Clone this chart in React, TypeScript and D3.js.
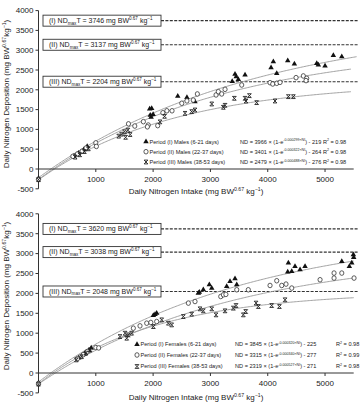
import React from "react";
import * as d3 from "d3";

type P = [number, number];

const xTickValues = [1000, 2000, 3000, 4000, 5000];
const yTickValues = [-500, 0, 500, 1000, 1500, 2000, 2500, 3000, 3500, 4000];

const periodNames = ["I", "II", "III"];
const periodDays = ["6-21 days", "22-37 days", "38-53 days"];

// Male fits
const maleA = [3966, 3401, 2479];
const maleB = [219, 264, 276];
const maleK = [0.000265, 0.000314, 0.00042];
const maleKText = ["0.000299", "0.000322", "0.000488"];
const maleR2 = ["0.98", "0.98", "0.98"];
const maleNDmax = [3746, 3137, 2204];
const maleFitEnd = [5550, 5450, 5450];

// Female fits
const femaleA = [3845, 3315, 2319];
const femaleB = [225, 277, 271];
const femaleK = [0.000284, 0.000296, 0.00049];
const femaleKText = ["0.000320", "0.000340", "0.000527"];
const femaleR2 = ["0.98", "0.99", "0.98"];
const femaleNDmax = [3620, 3038, 2048];
const femaleFitEnd = [5500, 5530, 5500];

// Male observations
const maleP1: P[] = [
  [0, -240], [620, 330], [700, 400], [790, 490], [850, 570],
  [1940, 1520], [1975, 1530], [1950, 1360], [2000, 1380], [1965, 1310],
  [2430, 1840], [2590, 1810], [2730, 1700],
  [3380, 2210], [3429, 2392], [3450, 2330], [3487, 2265], [3604, 2374],
  [4058, 2559], [4098, 2710], [4157, 2416], [4349, 2735], [4465, 2652],
  [4855, 2669], [4883, 2626], [5000, 2602], [5145, 2871], [5292, 2837],
];
const maleP2: P[] = [
  [0, -260], [600, 320], [680, 380], [760, 450], [830, 530], [1000, 660], [1010, 570],
  [1570, 1140], [1680, 1085], [1830, 1195], [1915, 1110], [1900, 1065], [2080, 1095],
  [2170, 1420], [2240, 1470], [2330, 1470], [2500, 1660], [2590, 1720], [2700, 1740],
  [2772, 1895], [3098, 1870], [3138, 1953], [3197, 1895], [3255, 2012], [3546, 2121],
  [4040, 2180], [4087, 2147], [4157, 2164], [4215, 2188], [4494, 2307], [4621, 2350],
  [4680, 2290], [4668, 2232],
];
const maleP3: P[] = [
  [0, -270], [640, 300], [720, 360], [800, 440], [870, 510],
  [1400, 830], [1450, 880], [1500, 940], [1520, 800], [1560, 980], [1600, 870],
  [2120, 1190], [2200, 1330], [2557, 1405], [2673, 1448], [2731, 1490],
  [3023, 1642], [3225, 1558], [3255, 1608], [3417, 1785], [3604, 1785], [3621, 1717],
  [3680, 1852], [3807, 1676], [4127, 1717], [4360, 1827], [4447, 1827],
];

// Female observations
const femaleP1: P[] = [
  [0, -250], [700, 380], [800, 480], [880, 560], [920, 630],
  [2004, 1444], [2033, 1472], [2062, 1504], [2789, 2008],
  [2806, 2033], [2876, 2091], [2981, 2217], [3023, 2134], [3284, 2174], [3342, 2300],
  [3429, 2368], [3459, 2217], [4360, 2763], [4349, 2537], [4419, 2552], [4476, 2678],
  [4564, 2595], [4651, 2678], [5292, 2804], [5424, 2678], [5466, 2763], [5494, 2972],
  [5500, 2905],
];
const femaleP2: P[] = [
  [0, -265], [680, 360], [780, 460], [850, 540], [1000, 640], [1050, 630],
  [1655, 1126], [1771, 1184], [1888, 1252], [1960, 1270], [2062, 1293],
  [2615, 1756], [2731, 1796], [3180, 1922], [3226, 1965], [3270, 1975], [3459, 2091],
  [3661, 2091], [4040, 2199], [4157, 2318], [4244, 2199], [4319, 2234], [4419, 2134],
  [4913, 2343], [5157, 2511], [5157, 2385], [5292, 2511], [5506, 2385],
];
const femaleP3: P[] = [
  [0, -280], [660, 330], [750, 410], [830, 500], [900, 580],
  [1422, 915], [1510, 1000], [1567, 958], [1625, 1000], [1539, 874],
  [2004, 1166], [2150, 1335], [2266, 1252], [2324, 1209], [2527, 1418], [2673, 1478],
  [2818, 1612], [2876, 1562], [3023, 1612], [3098, 1461], [3255, 1562], [3400, 1630],
  [3447, 1695], [3574, 1461], [3616, 1544], [3796, 1756], [3836, 1670], [4069, 1695],
  [4203, 1670], [4302, 1839],
];

const FONT = "Liberation Sans, Arial, sans-serif";
const TXT = "#222";

function Marker({ kind, cx, cy }: { kind: number; cx: number; cy: number }) {
  if (kind === 0) {
    const p = d3.symbol(d3.symbolTriangle, 13)();
    return <path d={p || ""} transform={`translate(${cx},${cy})`} fill="#111" />;
  }
  if (kind === 1) {
    return <ellipse cx={cx} cy={cy} rx={2.1} ry={2.3} fill="#fff" stroke="#333" strokeWidth={0.8} />;
  }
  const s = 1.9;
  const d = `M${-s},${-s}L${s},${s}M${s},${-s}L${-s},${s}M${-s},${-s}L${s},${-s}M${-s},${s}L${s},${s}`;
  return <path d={d} transform={`translate(${cx},${cy})`} stroke="#222" strokeWidth={0.9} fill="none" />;
}

type PanelProps = {
  yTop: number;
  yBot: number;
  sex: string;
  series: P[][];
  A: number[];
  B: number[];
  K: number[];
  KText: string[];
  R2: string[];
  NDmax: number[];
  fitEnd: number[];
  legX: number;
  legRows: number[];
  eqX: number;
  r2X: number | null;
  xTitleY: number;
  yTitleC: number;
};

function Panel(p: PanelProps) {
  const x = d3.scaleLinear().domain([0, 5500]).range([38.5, 353.7]);
  const y = d3.scaleLinear().domain([-500, 4000]).range([p.yBot, p.yTop]);
  const x0 = x(0);
  const y0 = y(0);
  const line = d3.line<number>().x((v) => x(v)).y((v, i) => 0);
  const curves = p.A.map((a, i) => {
    const pts: P[] = d3.range(0, p.fitEnd[i] + 1, 25).map((v) => [v, a * (1 - Math.exp(-p.K[i] * v)) - p.B[i]]);
    return d3.line<P>().x((d) => x(d[0])).y((d) => y(d[1])).curve(d3.curveLinear)(pts) || "";
  });
  void line;
  const boxL = 43;
  const boxR = 161;
  return (
    <g fontFamily={FONT} fill={TXT}>
      {/* dashed NDmax lines and boxes */}
      {p.NDmax.map((v, i) => (
        <g key={"nd" + i}>
          <line x1={boxR} x2={358} y1={y(v)} y2={y(v)} stroke="#333" strokeWidth={1.1} strokeDasharray="3,1.4" />
          <rect x={boxL} y={y(v) - 5.5} width={boxR - boxL} height={11} fill="#fff" stroke="#333" strokeWidth={0.9} />
          <text x={boxL + 6} y={y(v) + 2.4} fontSize={7}>
            <tspan>({periodNames[i]}) ND</tspan>
            <tspan fontSize={4.6} dy={1.5}>max</tspan>
            <tspan dy={-1.5}>T = {v} mg BW</tspan>
            <tspan fontSize={4.6} dy={-3}>0.67</tspan>
            <tspan dy={3}> kg</tspan>
            <tspan fontSize={4.6} dy={-3}>−1</tspan>
          </text>
        </g>
      ))}
      {/* fitted curves */}
      {curves.map((d, i) => (
        <path key={"c" + i} d={d} fill="none" stroke="#999" strokeWidth={0.9} />
      ))}
      {/* axes */}
      <line x1={x0} x2={x0} y1={y(4000)} y2={y(-500)} stroke="#333" strokeWidth={1} />
      <line x1={x0} x2={x(5500)} y1={y0} y2={y0} stroke="#333" strokeWidth={1} />
      {yTickValues.map((v) => (
        <g key={"yt" + v}>
          <line x1={x0 - 3} x2={x0} y1={y(v)} y2={y(v)} stroke="#333" strokeWidth={1} />
          <text x={x0 - 5} y={y(v)} dy="0.35em" textAnchor="end" fontSize={8}>
            {v}
          </text>
        </g>
      ))}
      {xTickValues.map((v) => (
        <g key={"xt" + v}>
          <line x1={x(v)} x2={x(v)} y1={y0} y2={y0 + 3} stroke="#333" strokeWidth={1} />
          <text x={x(v)} y={y0 + 10} dy="0.35em" textAnchor="middle" fontSize={8}>
            {v}
          </text>
        </g>
      ))}
      {/* axis titles */}
      <text x={196} y={p.xTitleY} textAnchor="middle" fontSize={8}>
        <tspan>Daily Nitrogen Intake (mg BW</tspan>
        <tspan fontSize={5.2} dy={-3}>0.67</tspan>
        <tspan dy={3}> kg</tspan>
        <tspan fontSize={5.2} dy={-3}>−1</tspan>
        <tspan dy={3}>)</tspan>
      </text>
      <text transform={`translate(9,${p.yTitleC}) rotate(-90)`} textAnchor="middle" fontSize={8}>
        <tspan>Daily Nitrogen Deposition (mg BW</tspan>
        <tspan fontSize={5.2} dy={-3}>0.67</tspan>
        <tspan dy={3}>kg</tspan>
        <tspan fontSize={5.2} dy={-3}>−1</tspan>
        <tspan dy={3}>)</tspan>
      </text>
      {/* data */}
      {p.series.map((s, k) =>
        s.map((d, j) => <Marker key={`m${k}-${j}`} kind={k} cx={x(d[0])} cy={y(d[1])} />)
      )}
      {/* legend */}
      {p.legRows.map((ry, i) => (
        <g key={"lg" + i}>
          <Marker kind={i} cx={p.legX} cy={ry} />
          <text x={p.legX + 3.5} y={ry} dy="0.35em" fontSize={5.6}>
            Period ({periodNames[i]}) {p.sex} ({periodDays[i]})
          </text>
          <text x={p.eqX} y={ry} dy="0.35em" fontSize={5.6}>
            <tspan>ND = {p.A[i]} × (1-e</tspan>
            <tspan fontSize={3.6} dy={-2.2}>-{p.KText[i]}×NI</tspan>
            <tspan dy={2.2}>) - {p.B[i]}</tspan>
            {p.r2X === null ? (
              <>
                <tspan> R</tspan>
                <tspan fontSize={3.6} dy={-2.2}>2</tspan>
                <tspan dy={2.2}> = {p.R2[i]}</tspan>
              </>
            ) : null}
          </text>
          {p.r2X !== null ? (
            <text x={p.r2X} y={ry} dy="0.35em" fontSize={5.6}>
              <tspan>R</tspan>
              <tspan fontSize={3.6} dy={-2.2}>2</tspan>
              <tspan dy={2.2}> = {p.R2[i]}</tspan>
            </text>
          ) : null}
        </g>
      ))}
    </g>
  );
}

export default function App() {
  return (
    <svg
      width={364}
      height={403}
      viewBox="0 0 364 403"
      style={{ position: "absolute", left: 0, top: 0, background: "#fff" }}
    >
      <rect width={364} height={403} fill="#fff" />
      <Panel
        yTop={10.6}
        yBot={188.8}
        sex="Males"
        series={[maleP1, maleP2, maleP3]}
        A={maleA}
        B={maleB}
        K={maleK}
        KText={maleKText}
        R2={maleR2}
        NDmax={maleNDmax}
        fitEnd={maleFitEnd}
        legX={146}
        legRows={[141.7, 151.7, 162]}
        eqX={240}
        r2X={null}
        xTitleY={193.5}
        yTitleC={94}
      />
      <Panel
        yTop={213.8}
        yBot={392.9}
        sex="Females"
        series={[femaleP1, femaleP2, femaleP3]}
        A={femaleA}
        B={femaleB}
        K={femaleK}
        KText={femaleKText}
        R2={femaleR2}
        NDmax={femaleNDmax}
        fitEnd={femaleFitEnd}
        legX={137}
        legRows={[344.5, 355, 366.5]}
        eqX={235}
        r2X={336}
        xTitleY={400}
        yTitleC={296}
      />
    </svg>
  );
}
